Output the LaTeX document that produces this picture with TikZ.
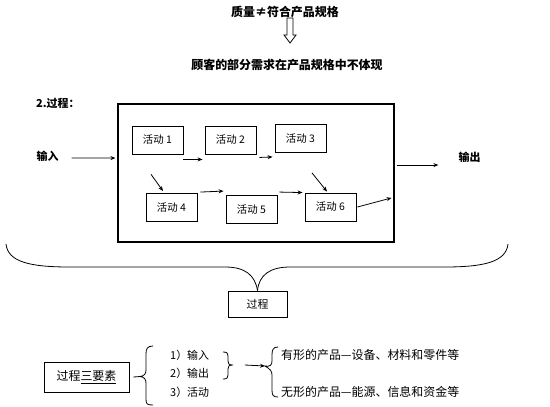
\documentclass[tikz,border=0pt]{standalone}
\usepackage{fontspec}
\setmainfont{Noto Sans CJK SC}
\usetikzlibrary{arrows.meta}
\begin{document}
\begin{tikzpicture}[x=1bp,y=-1bp,
  act/.style={draw, line width=0.9bp, minimum width=51bp, minimum height=28bp, inner sep=0pt, font=\fontsize{10.5}{12}\selectfont},
  arr/.style={-{Stealth[length=5bp,width=4bp]}, line width=0.8bp},
  bold/.style={inner sep=0pt, font=\fontsize{11}{13}\selectfont\bfseries},
  title/.style={inner sep=0pt, font=\fontsize{12}{14}\selectfont\bfseries},
  plain/.style={inner sep=0pt, font=\fontsize{11}{13}\selectfont},
  wide/.style={inner sep=0pt, font=\fontsize{12}{14}\selectfont},
  brace/.style={line width=0.8bp}]
\useasboundingbox (0,0) rectangle (550,406);

% top
\node[title] (t1) at (285,12) {质量≠符合产品规格};
\draw[line width=0.8bp] (287,18) -- (293,18) -- (293,35) -- (296,35) -- (290,43) -- (284,35) -- (287,35) -- cycle;
\node[title] (t2) at (287,65) {顾客的部分需求在产品规格中不体现};

% process
\node[bold, anchor=west] (p2) at (36,103) {2.过程：};
\node[draw, line width=1.1bp, minimum width=276bp, minimum height=138bp, inner sep=0pt] (box) at (256,173) {};
\node[bold] (in) at (47.5,156) {输入};
\node[bold] (out) at (469.5,157) {输出};

\node[act] (a1) at (157.5,140) {活动 1};
\node[act] (a2) at (230.5,140) {活动 2};
\node[act] (a3) at (300.5,138.5) {活动 3};
\node[act] (a4) at (171.5,207.5) {活动 4};
\node[act] (a5) at (251.5,209.5) {活动 5};
\node[act] (a6) at (330.5,207) {活动 6};

\draw[arr] ([xshift=13,yshift=-2]in.east) -- ([xshift=-2,yshift=15]box.west);
\draw[arr] ([yshift=-5]a1.south east) -- ([xshift=-2,yshift=-5]a2.south west);
\draw[arr] ([xshift=3,yshift=-3]a2.south east) -- ([xshift=-2,yshift=-4]a3.south west);
\draw[arr] ([xshift=-6.5,yshift=-20]a1.south) -- ([xshift=-8.5,yshift=2]a4.north);
\draw[arr] ([xshift=3,yshift=1]a4.north east) -- ([xshift=-2,yshift=4]a5.north west);
\draw[arr] ([xshift=2,yshift=3]a5.north east) -- ([xshift=-2]a6.north west);
\draw[arr] ([xshift=11.5,yshift=-20]a3.south) -- ([xshift=-3.5,yshift=1]a6.north);
\draw[arr] ([xshift=1]a6.east) -- ([xshift=-3,yshift=-25]box.east);
\draw[arr] ([xshift=2,yshift=8]box.east) -- ([xshift=44,yshift=8]box.east);

% big brace
\node[draw, line width=0.9bp, minimum width=59bp, minimum height=26bp, inner sep=0pt, font=\fontsize{11}{13}\selectfont] (gc) at (257.5,304) {过程};
\draw[brace] (6,244) .. controls (8,262) and (30,267) .. (70,267) -- (225,267) .. controls (245,267) and (255,275) .. (gc.north);
\draw[brace] (508,244) .. controls (506,262) and (484,267) .. (444,267) -- (290,267) .. controls (270,267) and (259,275) .. (gc.north);

% bottom
\node[draw, line width=0.9bp, minimum width=85bp, minimum height=30bp, inner sep=0pt, font=\fontsize{12}{14}\selectfont] (ys) at (86.5,377) {过程\underline{三要素}};
\draw[brace] ([xshift=4]ys.east) -- ([xshift=11,yshift=0.5]ys.east);
\draw[brace] (153,346) .. controls (147,346) and (146,349) .. (146,354) -- (146,370) .. controls (146,374) and (144,376) .. (140,376.5) .. controls (144,377) and (146,379) .. (146,383) -- (146,399) .. controls (146,404) and (147,405) .. (153,405);

\node[plain, anchor=west] (i1) at (170,355) {1）输入};
\node[plain, anchor=west] (i2) at (170,373) {2）输出};
\node[plain, anchor=west] (i3) at (170,392) {3）活动};

\draw[brace] (223,352) .. controls (227,352) and (228,353) .. (228,356) -- (228,361) .. controls (228,364) and (229,365) .. (233,365) .. controls (229,365) and (228,366) .. (228,369) -- (228,375) .. controls (228,378) and (227,379) .. (223,379);
\coordinate (rb) at (233,365);
\coordinate (lb) at (265,366);
\draw[arr] ([xshift=12]rb) -- (lb);
\draw[brace] (278,347) .. controls (273,347) and (272,350) .. (272,355) -- (272,361) .. controls (272,365) and (270,367) .. (lb) .. controls (270,369) and (272,371) .. (272,375) -- (272,390) .. controls (272,395) and (273,397) .. (278,397);

\node[wide, anchor=west] (r1) at (281,355) {有形的产品—设备、材料和零件等};
\node[wide, anchor=west] (r2) at (281,392) {无形的产品—能源、信息和资金等};
\end{tikzpicture}
\end{document}
